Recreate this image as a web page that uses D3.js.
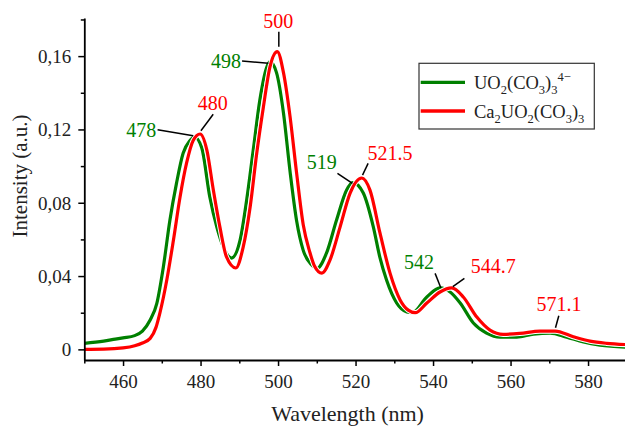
<!DOCTYPE html>
<html>
<head>
<meta charset="utf-8">
<script src="https://cdn.jsdelivr.net/npm/d3@7"></script>
<style>
	body { margin: 0; background: #fff; }
</style>
</head>
<body>
<script>
// UO2(CO3)3 4- spectrum (green)
var greenWl  = [450, 455, 458, 460, 463, 465, 467, 468.7, 470.4, 472.1, 473.8, 475.5, 477.3, 478.4, 480.3, 482.4, 484.2, 485.9, 488.0, 490.2, 491.9, 493.6, 495.3, 497.1, 497.9, 499.6, 501.4, 503.1, 504.8, 506.5, 508.5, 510.1, 512.5, 515.1, 517.7, 519.3, 522, 524.6, 526.3, 528, 530.6, 533.2, 534.6, 538.4, 541.8, 544.4, 547, 550.4, 553.8, 557.3, 561.6, 565.9, 570.2, 574.5, 578.8, 583.1, 590]
var greenVal = [0.0033, 0.0045, 0.0056, 0.0063, 0.0075, 0.0100, 0.0160, 0.0250, 0.0450, 0.0706, 0.0907, 0.1070, 0.1140, 0.1160, 0.1100, 0.0830, 0.0667, 0.0558, 0.0498, 0.0596, 0.0815, 0.1088, 0.1360, 0.1540, 0.1570, 0.1510, 0.1290, 0.0970, 0.0700, 0.0540, 0.0465, 0.0443, 0.0525, 0.0706, 0.0870, 0.0910, 0.0853, 0.0667, 0.0500, 0.0378, 0.0253, 0.0204, 0.0200, 0.0286, 0.0335, 0.0313, 0.0253, 0.0144, 0.0089, 0.0067, 0.0067, 0.0083, 0.0089, 0.0067, 0.0040, 0.0023, 0.0012]
// Ca2UO2(CO3)3 spectrum (red)
var redWl  = [450, 455, 460, 463, 465, 467, 468.5, 469.5, 471.3, 473, 474.7, 476.4, 478.1, 479.9, 481.6, 483.3, 485, 486.7, 489.1, 491, 492.8, 494.5, 496.2, 497.9, 499.8, 501.4, 503.1, 504.8, 506.5, 508.2, 509.4, 511.3, 513.4, 516, 518.6, 521.6, 523.7, 526.3, 528.9, 531.5, 533.6, 535.4, 538.4, 541.8, 544.8, 547.8, 551.3, 554.7, 558.1, 562.4, 567.6, 571.5, 576.2, 580.5, 584.8, 590]
var redVal = [0.0000, 0.0001, 0.0008, 0.0020, 0.0035, 0.0060, 0.0120, 0.0198, 0.0380, 0.0596, 0.0830, 0.1017, 0.1140, 0.1175, 0.1090, 0.0870, 0.0667, 0.0504, 0.0444, 0.0558, 0.0777, 0.1070, 0.1320, 0.1540, 0.1625, 0.1510, 0.1270, 0.0960, 0.0680, 0.0530, 0.0455, 0.0416, 0.0487, 0.0667, 0.0853, 0.0935, 0.0870, 0.0635, 0.0416, 0.0270, 0.0214, 0.0200, 0.0253, 0.0313, 0.0335, 0.0286, 0.0176, 0.0105, 0.0082, 0.0087, 0.0100, 0.0100, 0.0069, 0.0045, 0.0033, 0.0026]

var xTicks = [460, 480, 500, 520, 540, 560, 580]
var yTicks = [0, 0.04, 0.08, 0.12, 0.16]

// peak annotations
var peakLabels = ["478", "480", "498", "500", "519", "521.5", "542", "544.7", "571.1"]
var peakWl     = [478.1, 480.1, 497.5, 500.2, 519.2, 521.8, 542.0, 545.1, 571.6]
var peakVal    = [0.1166, 0.1193, 0.1561, 0.1651, 0.0906, 0.0951, 0.0336, 0.0342, 0.0118]
var peakSeries = ["green", "red", "green", "red", "green", "red", "green", "red", "red"]

var green = "#008000", red = "#ff0000"
var serif = "'Liberation Serif', 'Times New Roman', Tinos, 'DejaVu Serif', serif"

var width = 625, height = 432
var plotLeft = 84.3, plotRight = 626.8, plotTop = 18, plotBottom = 360

var svg = d3.select("body").append("svg")
	.attr("width", width)
	.attr("height", height)
	.attr("font-family", serif)

var x = d3.scaleLinear().domain([450, 590]).range([plotLeft, plotRight])
var y = d3.scaleLinear().domain([-0.0058, 0.1808]).range([plotBottom, plotTop])

svg.append("clipPath").attr("id", "plot-clip")
	.append("rect").attr("x", plotLeft).attr("y", plotTop).attr("width", plotRight - plotLeft).attr("height", plotBottom - plotTop)

var line = d3.line()
	.x((d) => x(d[0]))
	.y((d) => y(d[1]))
	.curve(d3.curveMonotoneX)

var series = [
	{ color: green, pts: greenWl.map((w, i) => [w, greenVal[i]]) },
	{ color: red, pts: redWl.map((w, i) => [w, redVal[i]]) }
]

var plot = svg.append("g").attr("clip-path", "url(#plot-clip)")
series.forEach((s) => {
	// thin white halo like the original export
	plot.append("path").attr("d", line(s.pts))
		.attr("fill", "none").attr("stroke", "#fff").attr("stroke-width", 5.2)
		.attr("stroke-linejoin", "round")
	plot.append("path").attr("d", line(s.pts))
		.attr("fill", "none").attr("stroke", s.color).attr("stroke-width", 3.2)
		.attr("stroke-linejoin", "round")
})

// axes
var fmt = (v) => v === 0 ? "0" : d3.format(".2f")(v).replace(".", ",")

var xAxis = svg.append("g").attr("transform", "translate(0," + plotBottom + ")")
	.call(d3.axisBottom(x).tickValues(xTicks).tickSize(6).tickSizeOuter(0).tickPadding(5))
var xMinor = svg.append("g").attr("transform", "translate(0," + plotBottom + ")")
	.call(d3.axisBottom(x).tickValues(d3.range(450, 591, 10).filter((v) => xTicks.indexOf(v) < 0)).tickSize(3.5).tickSizeOuter(0).tickFormat(""))
var yAxis = svg.append("g").attr("transform", "translate(" + plotLeft + ",0)")
	.call(d3.axisLeft(y).tickValues(yTicks).tickFormat(fmt).tickSize(6).tickSizeOuter(0).tickPadding(7))
var yMinor = svg.append("g").attr("transform", "translate(" + plotLeft + ",0)")
	.call(d3.axisLeft(y).tickValues([0.02, 0.06, 0.10, 0.14, 0.18]).tickSize(3.5).tickSizeOuter(0).tickFormat(""))

;[xAxis, xMinor, yAxis, yMinor].forEach((a) => {
	a.attr("font-family", serif).attr("font-size", 19)
	a.select(".domain").attr("stroke", "#000").attr("stroke-width", 1.8)
	a.selectAll(".tick line").attr("stroke", "#000").attr("stroke-width", 1.5)
	a.selectAll(".tick text").attr("fill", "#222")
})
xMinor.select(".domain").remove()
yMinor.select(".domain").remove()
yAxis.selectAll(".tick text").attr("dy", "0.34em")
xAxis.selectAll(".tick text").attr("dy", "0.88em")

svg.append("text")
	.attr("x", (plotLeft + plotRight) / 2 - 8).attr("y", 421)
	.attr("text-anchor", "middle").attr("fill", "#222")
	.attr("font-size", 22)
	.text("Wavelength (nm)")
svg.append("text")
	.attr("transform", "translate(27,176) rotate(-90)")
	.attr("text-anchor", "middle").attr("fill", "#222")
	.attr("font-size", 21)
	.text("Intensity (a.u.)")

// annotations: leader start offset, text offset, anchor (pixels relative to the peak)
var leaderOff = [[-35.6, -6], [12.3, -16.4], [-26.3, -2.3], [0, -15], [-15, -10], [5.6, -11.7], [-5.7, -14.4], [11.6, -8.4], [3.3, -12]]
var textOff = [[-37, 1.3], [11.7, -20.7], [-27.3, 5], [-0.7, -19], [-15.6, -14], [5, -15], [-21.7, -18.4], [18, -13.4], [3.5, -16.7]]
var anchors = ["end", "middle", "end", "middle", "end", "start", "middle", "start", "middle"]

var ann = svg.append("g")
peakLabels.forEach((lab, i) => {
	var px = x(peakWl[i]), py = y(peakVal[i])
	ann.append("line")
		.attr("x1", px + leaderOff[i][0]).attr("y1", py + leaderOff[i][1])
		.attr("x2", px).attr("y2", py)
		.attr("stroke", "#000").attr("stroke-width", 1.5)
	ann.append("text")
		.attr("x", px + textOff[i][0]).attr("y", py + textOff[i][1])
		.attr("text-anchor", anchors[i])
		.attr("fill", peakSeries[i] === "green" ? green : red)
		.attr("font-size", 20)
		.text(lab)
})

// legend
var legend = svg.append("g")
legend.append("rect")
	.attr("x", 419).attr("y", 63.3).attr("width", 175.3).attr("height", 65.7)
	.attr("fill", "#fff").attr("stroke", "#333").attr("stroke-width", 1.2)
var legendItems = [
	{ color: green, y: 82.3, parts: [["UO", 0], ["2", 1], ["(CO", 0], ["3", 1], [")", 0], ["3", 1], ["4\u2212", 2]] },
	{ color: red, y: 111, parts: [["Ca", 0], ["2", 1], ["UO", 0], ["2", 1], ["(CO", 0], ["3", 1], [")", 0], ["3", 1]] }
]
legendItems.forEach((it) => {
	legend.append("line")
		.attr("x1", 420.7).attr("x2", 465).attr("y1", it.y).attr("y2", it.y)
		.attr("stroke", it.color).attr("stroke-width", 3.3)
	var t = legend.append("text")
		.attr("x", 474).attr("y", it.y + 6.5)
		.attr("fill", "#222").attr("font-size", 18.5)
	var shift = 0
	it.parts.forEach((p) => {
		var target = p[1] === 1 ? 5 : p[1] === 2 ? -8 : 0
		t.append("tspan")
			.attr("dy", target - shift)
			.attr("font-size", p[1] === 0 ? 18.5 : 12.5)
			.text(p[0])
		shift = target
	})
})
</script>
</body>
</html>
